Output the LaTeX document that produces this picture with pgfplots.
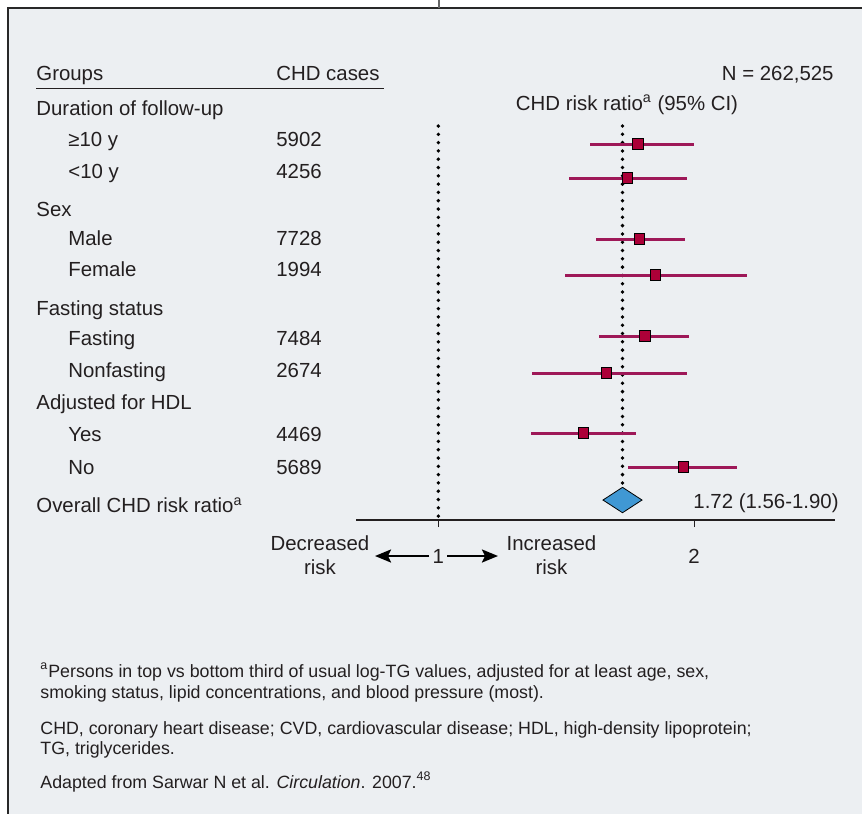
\documentclass[border=0pt]{standalone}
\usepackage{fontspec}
\setmainfont{Liberation Sans}
\usepackage{pgfplots}
\pgfplotsset{compat=1.18}
\usepackage{pgfplotstable}
\usetikzlibrary{arrows.meta}

\definecolor{panelbg}{RGB}{236,239,242}
\definecolor{inktext}{RGB}{35,31,32}
\definecolor{ciline}{RGB}{158,24,88}
\definecolor{pointred}{RGB}{172,0,56}
\definecolor{pooledblue}{RGB}{64,152,212}
\definecolor{frameline}{RGB}{40,40,40}

% CHD risk ratio by subgroup: row position, point estimate, 95% CI
\pgfplotstableread{
row  est    lo     hi
144  1.780  1.591  2.000
178  1.738  1.510  1.974
239  1.785  1.618  1.966
275  1.848  1.497  2.206
336  1.807  1.628  1.980
373  1.657  1.366  1.972
433  1.568  1.362  1.773
467  1.958  1.743  2.166
}\subgroups

\begin{document}
\begin{tikzpicture}[x=0.5bp, y=-0.5bp, font=\fontsize{10.2bp}{12bp}\selectfont, text=inktext]
\fill[white] (0,0) rectangle (862,814);
\useasboundingbox (0,0) rectangle (862,814);
\fill[panelbg] (8,8) rectangle (862,814);
\draw[frameline, line width=1bp] (8,814) -- (8,8) -- (862,8);
\draw[black!60, line width=1bp] (439,0) -- (439,8);

% table header
\node[anchor=base west, inner sep=0] at (36,80) {Groups};
\node[anchor=base west, inner sep=0] at (276,80) {CHD cases};
\draw[inktext, line width=0.6bp] (36,88.3) -- (384,88.3);
\node[anchor=base east, inner sep=0] at (834,80) {N = 262,525};
\node[anchor=base, inner sep=0] at (627,110) {CHD risk ratio\textsuperscript{a} (95\% CI)};

% group headings
\foreach \y/\t in {115.7/Duration of follow-up, 216/Sex, 315/Fasting status,
                   409/Adjusted for HDL, 512.7/Overall CHD risk ratio\textsuperscript{a}}
  \node[anchor=base west, inner sep=0] at (36,\y) {\t};

% subgroup rows
\foreach \y/\t/\n in {146.7/≥10 y/5902, 178/<10 y/4256, 245/Male/7728, 276.7/Female/1994,
                      345/Fasting/7484, 377/Nonfasting/2674, 441.7/Yes/4469, 474/No/5689} {
  \node[anchor=base west, inner sep=0] at (68,\y) {\t};
  \node[anchor=base west, inner sep=0] at (276,\y) {\n};
}

\node[anchor=base, inner sep=0] at (766,508) {1.72 (1.56-1.90)};

% direction labels under the axis
\node[anchor=base, inner sep=0] at (320,550.7) {Decreased};
\node[anchor=base, inner sep=0] at (320,574) {risk};
\node[anchor=base, inner sep=0] at (551.5,550.7) {Increased};
\node[anchor=base, inner sep=0] at (551.5,574) {risk};
\draw[line width=1.1bp, -{Stealth[length=8bp, width=6.5bp, inset=1.5bp]}] (429,556) -- (375,556);
\draw[line width=1.1bp, -{Stealth[length=8bp, width=6.5bp, inset=1.5bp]}] (447,556) -- (498,556);

\begin{axis}[
  at={(178bp,-260bp)}, anchor=south west,
  scale only axis, width=239.5bp, height=210bp,
  xmin=0.678, xmax=2.551, ymin=100, ymax=520, y dir=reverse,
  axis x line*=bottom, axis y line=none,
  axis line style={line width=0.85bp, draw=inktext},
  xtick={1,2}, xticklabels={1,2},
  tick align=outside, major tick length=3.5bp,
  x tick style={line width=0.6bp, draw=inktext},
  xticklabel style={anchor=base, yshift=-18.2bp, font=\fontsize{10.2bp}{12bp}\selectfont},
  ytick=\empty,
  clip=false,
  /pgf/number format/assume math mode=true,
  dotline/.style={draw=black, line width=1.9bp, line cap=round, dash pattern=on 0pt off 4.15bp},
]
% reference lines: no effect and pooled estimate
\addplot[dotline] coordinates {(1,126) (1,520)};
\addplot[dotline] coordinates {(1.72,126) (1.72,490)};

% 95% confidence intervals
\addplot[draw=none, mark=none, forget plot,
  error bars/.cd, x dir=both, x explicit, error mark=none,
  error bar style={draw=ciline, line width=1.5bp, solid}]
  table[x=est, y=row,
        x error plus expr=\thisrow{hi}-\thisrow{est},
        x error minus expr=\thisrow{est}-\thisrow{lo}] {\subgroups};

% subgroup estimates
\addplot[only marks, mark=square*, mark size=2.6bp,
  mark options={fill=pointred, draw=none}] table[x=est, y=row] {\subgroups};

% pooled estimate
\addplot[only marks, mark=diamond*, mark size=6.35bp,
  mark options={fill=pooledblue, draw=none, xscale=2.05}] coordinates {(1.72,500)};
\end{axis}

% footnotes
\begin{scope}[font=\fontsize{8.9bp}{10.5bp}\selectfont]
\node[anchor=base west, inner sep=0] at (40,677) {\textsuperscript{a}Persons in top vs bottom third of usual log-TG values, adjusted for at least age, sex,};
\node[anchor=base west, inner sep=0] at (40,698) {smoking status, lipid concentrations, and blood pressure (most).};
\node[anchor=base west, inner sep=0] at (40,734) {CHD, coronary heart disease; CVD, cardiovascular disease; HDL, high-density lipoprotein;};
\node[anchor=base west, inner sep=0] at (40,754) {TG, triglycerides.};
\node[anchor=base west, inner sep=0] at (40,788) {Adapted from Sarwar N et al. \textit{Circulation}. 2007.\textsuperscript{48}};
\end{scope}
\end{tikzpicture}
\end{document}
